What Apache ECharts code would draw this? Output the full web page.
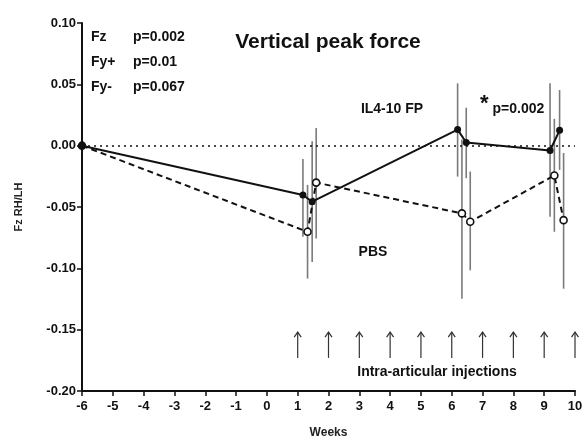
<!DOCTYPE html>
<html><head><meta charset="utf-8">
<script src="https://cdn.jsdelivr.net/npm/echarts@6/dist/echarts.min.js"></script>
<style>html,body{margin:0;padding:0;background:#fff}#c{width:586px;height:444px}</style>
</head><body><div id="c"></div>
<script>
// ---- data ----
const xTicks = [-6, -5, -4, -3, -2, -1, 0, 1, 2, 3, 4, 5, 6, 7, 8, 9, 10];
const yTicks = [-0.20, -0.15, -0.10, -0.05, 0.00, 0.05, 0.10];

const weeksFP = [-6, 1.17, 1.47, 6.19, 6.47, 9.19, 9.5];
const meanFP  = [0, -0.0402, -0.0457, 0.0131, 0.0026, -0.0039, 0.0125];
const hiFP    = [null, -0.0109, 0.0035, 0.0508, 0.0309, 0.0508, 0.0453];
const loFP    = [null, -0.0743, -0.0948, -0.0252, -0.0265, -0.0580, -0.0197];

const weeksPBS = [-6, 1.32, 1.60, 6.33, 6.60, 9.33, 9.63];
const meanPBS  = [0, -0.0702, -0.0301, -0.0552, -0.0620, -0.0243, -0.0607];
const hiPBS    = [null, -0.0320, 0.0145, 0.0050, -0.0211, 0.0219, -0.0060];
const loPBS    = [null, -0.1084, -0.0757, -0.1248, -0.1016, -0.0702, -0.1166];

const injectionWeeks = [1, 2, 3, 4, 5, 6, 7, 8, 9, 10];
const arrowRange = [-0.173, -0.152];

// ---- chart ----
const FONT = 'Liberation Sans, Arial, Helvetica, sans-serif';
const zip = (xs, ys) => xs.map((x, i) => [x, ys[i]]);
const errData = (xs, lo, hi) => xs.map((x, i) => [x, lo[i], hi[i]]).filter(d => d[1] != null);

function errRender(params, api) {
  const x = api.value(0);
  const p1 = api.coord([x, api.value(2)]);
  const p2 = api.coord([x, api.value(1)]);
  return { type: 'line', shape: { x1: p1[0], y1: p1[1], x2: p2[0], y2: p2[1] },
           style: { stroke: '#7a7a7a', lineWidth: 1.6 } };
}
function arrowRender(params, api) {
  const x = api.value(0);
  const top = api.coord([x, arrowRange[1]]);
  const bot = api.coord([x, arrowRange[0]]);
  return { type: 'group', children: [
    { type: 'line', shape: { x1: bot[0], y1: bot[1], x2: top[0], y2: top[1] },
      style: { stroke: '#333', lineWidth: 1.2 } },
    { type: 'polyline', shape: { points: [[top[0] - 3.5, top[1] + 5], [top[0], top[1]], [top[0] + 3.5, top[1] + 5]] },
      style: { stroke: '#333', lineWidth: 1.2, fill: null } }
  ]};
}

const txt = (text, x, y, size, align) => ({
  type: 'text', x: x, y: y,
  style: { text: text, font: 'bold ' + size + 'px ' + FONT, fill: '#111',
           align: align || 'left', verticalAlign: 'middle' }
});

const chart = echarts.init(document.getElementById('c'), null, { renderer: 'canvas' });
chart.setOption({
  animation: false,
  backgroundColor: '#fff',
  grid: { left: 82, right: 11, top: 23, bottom: 52 },
  xAxis: {
    type: 'value', min: xTicks[0], max: xTicks[xTicks.length - 1], interval: 1,
    name: 'Weeks', nameLocation: 'middle', nameGap: 36,
    nameTextStyle: { fontFamily: FONT, fontWeight: 'bold', fontSize: 12, color: '#222' },
    axisLine: { onZero: false, lineStyle: { color: '#111', width: 2 } },
    axisTick: { length: 5, lineStyle: { color: '#111', width: 1.5 } },
    axisLabel: { margin: 9, fontFamily: FONT, fontWeight: 'bold', fontSize: 13, color: '#111',
                 formatter: v => String(v) },
    splitLine: { show: false }
  },
  yAxis: {
    type: 'value', min: yTicks[0], max: yTicks[yTicks.length - 1], interval: 0.05,
    name: 'Fz RH/LH', nameLocation: 'middle', nameGap: 58,
    nameTextStyle: { fontFamily: FONT, fontWeight: 'bold', fontSize: 11, color: '#222' },
    axisLine: { show: true, onZero: false, lineStyle: { color: '#111', width: 2 } },
    axisTick: { show: true, length: 5, lineStyle: { color: '#111', width: 1.5 } },
    axisLabel: { margin: 6, fontFamily: FONT, fontWeight: 'bold', fontSize: 13, color: '#111',
                 formatter: v => v.toFixed(2) },
    splitLine: { show: false }
  },
  series: [
    { type: 'custom', renderItem: errRender, data: errData(weeksFP, loFP, hiFP), z: 1, silent: true },
    { type: 'custom', renderItem: errRender, data: errData(weeksPBS, loPBS, hiPBS), z: 1, silent: true },
    { type: 'custom', renderItem: arrowRender, data: injectionWeeks.map(w => [w]), z: 1, silent: true },
    {
      name: 'PBS', type: 'line', data: zip(weeksPBS, meanPBS), z: 3,
      symbol: 'circle', symbolSize: 7,
      itemStyle: { color: '#fff', borderColor: '#111', borderWidth: 1.6 },
      lineStyle: { color: '#111', width: 2, type: [6, 4] },
      markLine: { silent: true, symbol: 'none', label: { show: false },
                  lineStyle: { color: '#111', type: [2, 4], width: 1.5 },
                  data: [{ yAxis: 0 }] }
    },
    {
      name: 'IL4-10 FP', type: 'line', data: zip(weeksFP, meanFP), z: 4,
      symbol: 'circle', symbolSize: 7,
      itemStyle: { color: '#111', borderColor: '#111', borderWidth: 0 },
      lineStyle: { color: '#111', width: 2 }
    }
  ],
  graphic: [
    txt('Fz', 91, 37, 14), txt('p=0.002', 133, 37, 14),
    txt('Fy+', 91, 62, 14), txt('p=0.01', 133, 62, 14),
    txt('Fy-', 91, 87, 14), txt('p=0.067', 133, 87, 14),
    txt('Vertical peak force', 328, 42, 21, 'center'),
    txt('IL4-10 FP', 392, 109, 14, 'center'),
    txt('*', 480, 104, 22),
    txt('p=0.002', 492.5, 109, 14),
    txt('PBS', 373, 252, 14, 'center'),
    txt('Intra-articular injections', 437, 372, 14, 'center')
  ]
});
</script>
</body></html>
